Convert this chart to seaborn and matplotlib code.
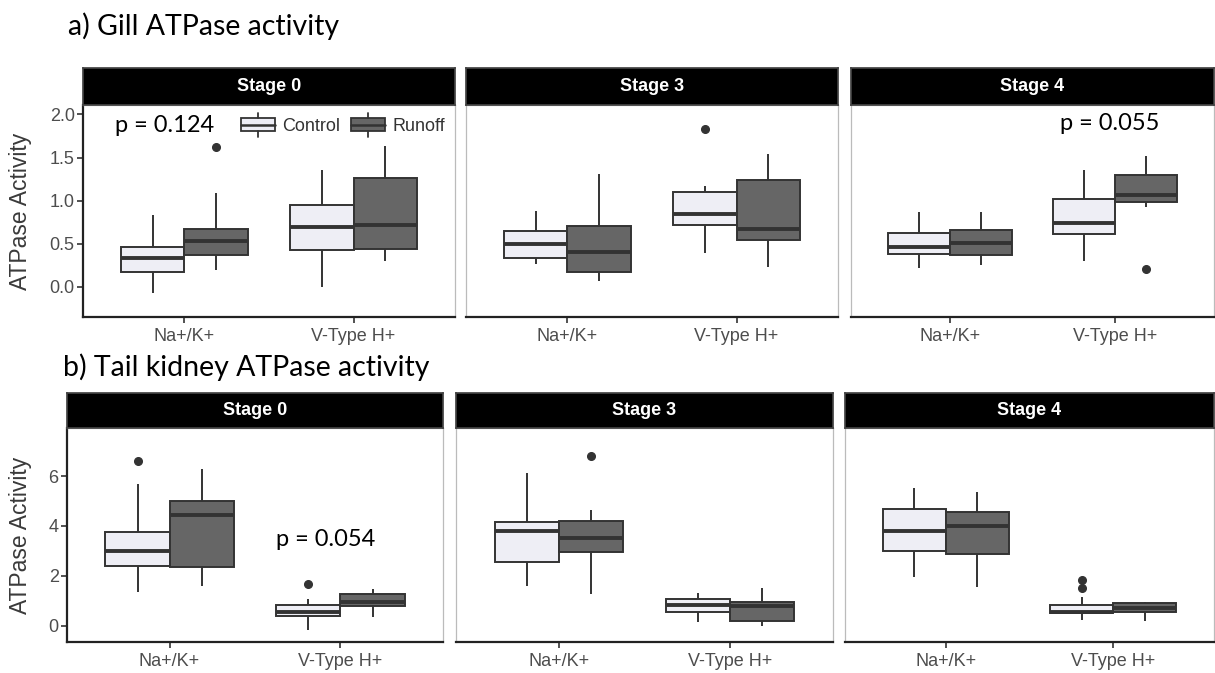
import pandas as pd
import seaborn as sns
import matplotlib.pyplot as plt
from matplotlib.patches import Rectangle, Patch
from matplotlib.lines import Line2D
from matplotlib.legend_handler import HandlerBase

# categories
stages = ['Stage 0', 'Stage 3', 'Stage 4']
pumps = ['Na+/K+', 'V-Type H+']
treatments = ['Control', 'Runoff']

# a) gill ATPase activity (values read off the boxes)
gill_s0_nak_control = [-0.07, 0.08, 0.17, 0.25, 0.34, 0.40, 0.46, 0.62, 0.83]
gill_s0_nak_runoff = [0.19, 0.28, 0.37, 0.45, 0.53, 0.60, 0.67, 1.09, 1.62]
gill_s0_vh_control = [0.00, 0.20, 0.43, 0.55, 0.69, 0.82, 0.95, 1.15, 1.36]
gill_s0_vh_runoff = [0.30, 0.37, 0.44, 0.58, 0.72, 1.00, 1.26, 1.45, 1.63]
gill_s3_nak_control = [0.26, 0.30, 0.34, 0.42, 0.50, 0.58, 0.65, 0.77, 0.88]
gill_s3_nak_runoff = [0.07, 0.12, 0.17, 0.28, 0.40, 0.55, 0.71, 1.00, 1.31]
gill_s3_vh_control = [0.39, 0.55, 0.72, 0.78, 0.85, 0.98, 1.10, 1.17, 1.83]
gill_s3_vh_runoff = [0.23, 0.38, 0.54, 0.60, 0.67, 0.95, 1.24, 1.40, 1.54]
gill_s4_nak_control = [0.22, 0.30, 0.38, 0.42, 0.46, 0.55, 0.63, 0.75, 0.87]
gill_s4_nak_runoff = [0.25, 0.31, 0.37, 0.44, 0.51, 0.59, 0.66, 0.77, 0.87]
gill_s4_vh_control = [0.30, 0.45, 0.61, 0.68, 0.74, 0.88, 1.02, 1.18, 1.35]
gill_s4_vh_runoff = [0.21, 0.93, 0.98, 1.02, 1.06, 1.18, 1.30, 1.41, 1.52]

# b) tail kidney ATPase activity
kid_s0_nak_control = [1.37, 1.90, 2.40, 2.70, 3.01, 3.40, 3.75, 5.68, 6.60]
kid_s0_nak_runoff = [1.60, 2.00, 2.37, 3.40, 4.44, 4.70, 5.00, 5.60, 6.27]
kid_s0_vh_control = [-0.16, 0.12, 0.40, 0.48, 0.57, 0.70, 0.84, 1.07, 1.67]
kid_s0_vh_runoff = [0.37, 0.60, 0.80, 0.88, 0.97, 1.12, 1.28, 1.38, 1.47]
kid_s3_nak_control = [1.61, 2.10, 2.57, 3.20, 3.80, 4.00, 4.17, 5.10, 6.13]
kid_s3_nak_runoff = [1.28, 2.10, 2.95, 3.20, 3.51, 3.85, 4.20, 4.64, 6.81]
kid_s3_vh_control = [0.17, 0.37, 0.57, 0.70, 0.84, 0.95, 1.07, 1.20, 1.31]
kid_s3_vh_runoff = [0.01, 0.10, 0.20, 0.50, 0.80, 0.88, 0.95, 1.25, 1.53]
kid_s4_nak_control = [1.95, 2.50, 3.01, 3.40, 3.80, 4.25, 4.68, 5.10, 5.53]
kid_s4_nak_runoff = [1.55, 2.20, 2.88, 3.45, 4.01, 4.30, 4.57, 5.00, 5.35]
kid_s4_vh_control = [0.24, 0.35, 0.45, 0.51, 0.53, 0.55, 0.57, 0.65, 0.75, 0.84, 1.15, 1.51, 1.84]
kid_s4_vh_runoff = [0.20, 0.38, 0.55, 0.63, 0.71, 0.82, 0.91, 0.93, 0.95]

gill_groups = [
    ('Stage 0', 'Na+/K+', 'Control', gill_s0_nak_control), ('Stage 0', 'Na+/K+', 'Runoff', gill_s0_nak_runoff),
    ('Stage 0', 'V-Type H+', 'Control', gill_s0_vh_control), ('Stage 0', 'V-Type H+', 'Runoff', gill_s0_vh_runoff),
    ('Stage 3', 'Na+/K+', 'Control', gill_s3_nak_control), ('Stage 3', 'Na+/K+', 'Runoff', gill_s3_nak_runoff),
    ('Stage 3', 'V-Type H+', 'Control', gill_s3_vh_control), ('Stage 3', 'V-Type H+', 'Runoff', gill_s3_vh_runoff),
    ('Stage 4', 'Na+/K+', 'Control', gill_s4_nak_control), ('Stage 4', 'Na+/K+', 'Runoff', gill_s4_nak_runoff),
    ('Stage 4', 'V-Type H+', 'Control', gill_s4_vh_control), ('Stage 4', 'V-Type H+', 'Runoff', gill_s4_vh_runoff),
]
kidney_groups = [
    ('Stage 0', 'Na+/K+', 'Control', kid_s0_nak_control), ('Stage 0', 'Na+/K+', 'Runoff', kid_s0_nak_runoff),
    ('Stage 0', 'V-Type H+', 'Control', kid_s0_vh_control), ('Stage 0', 'V-Type H+', 'Runoff', kid_s0_vh_runoff),
    ('Stage 3', 'Na+/K+', 'Control', kid_s3_nak_control), ('Stage 3', 'Na+/K+', 'Runoff', kid_s3_nak_runoff),
    ('Stage 3', 'V-Type H+', 'Control', kid_s3_vh_control), ('Stage 3', 'V-Type H+', 'Runoff', kid_s3_vh_runoff),
    ('Stage 4', 'Na+/K+', 'Control', kid_s4_nak_control), ('Stage 4', 'Na+/K+', 'Runoff', kid_s4_nak_runoff),
    ('Stage 4', 'V-Type H+', 'Control', kid_s4_vh_control), ('Stage 4', 'V-Type H+', 'Runoff', kid_s4_vh_runoff),
]


def to_frame(groups):
    rows = []
    for stage, pump, treat, vals in groups:
        for v in vals:
            rows.append({'stage': stage, 'pump': pump, 'treatment': treat, 'activity': v})
    return pd.DataFrame(rows)


gill = to_frame(gill_groups)
kidney = to_frame(kidney_groups)

sns.set_theme(style='white')
plt.rcParams['font.family'] = ['Liberation Sans', 'DejaVu Sans']

line_col = '#333333'
palette = {'Control': '#EDEDF6', 'Runoff': '#666666'}
tick_col = '#4D4D4D'
border_col = '#BBBBBB'

W, H = 1215, 673
fig = plt.figure(figsize=(W / 100, H / 100), dpi=100)


def px_axes(x0, y0, x1, y1):
    # pixel box (top-left origin) -> figure axes
    return fig.add_axes([x0 / W, 1 - y1 / H, (x1 - x0) / W, (y1 - y0) / H])


def draw_row(df, xs, strip_y, panel_y, ylim, yticks, yticklabels, ylab_x):
    axes = []
    for i, stage in enumerate(stages):
        x0, x1 = xs[i]
        ax = px_axes(x0, panel_y[0], x1, panel_y[1])
        sub = df[df['stage'] == stage]
        sns.boxplot(data=sub, x='pump', y='activity', hue='treatment', order=pumps,
                    hue_order=treatments, palette=palette, width=0.75, gap=0,
                    linecolor=line_col, linewidth=1.4, fliersize=5.5,
                    flierprops=dict(marker='o', markerfacecolor=line_col, markeredgecolor=line_col),
                    medianprops=dict(linewidth=2.8, color=line_col),
                    capprops=dict(linewidth=0), legend=False, ax=ax)
        ax.set_xlim(-0.6, 1.6)
        ax.set_ylim(*ylim)
        ax.set_xlabel('')
        ax.set_ylabel('')
        ax.tick_params(axis='x', length=4, width=1.2, color=line_col, labelsize=13,
                       labelcolor=tick_col, pad=4, bottom=True)
        for side in ['top', 'right', 'left']:
            ax.spines[side].set_color(border_col)
            ax.spines[side].set_linewidth(0.9)
        ax.spines['bottom'].set_color('#222222')
        ax.spines['bottom'].set_linewidth(1.6)
        if i == 0:
            ax.spines['left'].set_color('#222222')
            ax.spines['left'].set_linewidth(1.6)
            ax.set_yticks(yticks)
            ax.set_yticklabels(yticklabels)
            ax.tick_params(axis='y', length=4, width=1.2, color=line_col, labelsize=13,
                           labelcolor=tick_col, pad=2, left=True)
            ax.set_ylabel('ATPase Activity', fontsize=16.5, color='#3A3A3A')
            ax.yaxis.set_label_coords(ylab_x, 0.5)
        else:
            ax.set_yticks([])
        strip = px_axes(x0, strip_y[0], x1, strip_y[1])
        strip.set_facecolor('black')
        strip.set_xticks([])
        strip.set_yticks([])
        for s in strip.spines.values():
            s.set_color('#444444')
        strip.text(0.5, 0.5, stage, color='white', fontsize=13, fontweight='bold',
                   ha='center', va='center', transform=strip.transAxes)
        axes.append(ax)
    return axes


top_axes = draw_row(gill, [(83, 455), (466, 838), (851, 1214)], (68, 105), (105, 317),
                    (-0.35, 2.11), [0, 0.5, 1.0, 1.5, 2.0], ['0.0', '0.5', '1.0', '1.5', '2.0'], -0.137)
bot_axes = draw_row(kidney, [(67, 443), (456, 833), (845, 1214)], (393, 428), (428, 642),
                    (-0.64, 7.92), [0, 2, 4, 6], ['0', '2', '4', '6'], -0.093)

title_font = dict(family=['Lato', 'DejaVu Sans'], color='black')
fig.text(68 / W, 1 - 26 / H, 'a) Gill ATPase activity', fontsize=20.5, ha='left', va='center', **title_font)
fig.text(63 / W, 1 - 367 / H, 'b) Tail kidney ATPase activity', fontsize=20.5, ha='left', va='center', **title_font)

top_axes[0].text(-0.12, 1.87, 'p = 0.124', fontsize=17, ha='center', va='center', **title_font)
top_axes[2].text(0.97, 1.89, 'p = 0.055', fontsize=17, ha='center', va='center', **title_font)
bot_axes[0].text(0.915, 3.44, 'p = 0.054', fontsize=17, ha='center', va='center', **title_font)


class BoxKey(HandlerBase):
    def create_artists(self, legend, orig_handle, xd, yd, w, h, fontsize, trans):
        x0, y0 = -xd, -yd
        fc = orig_handle.get_facecolor()
        box = Rectangle((x0, y0 + 0.1 * h), w, 0.8 * h, facecolor=fc, edgecolor=line_col,
                        lw=1.3, transform=trans)
        med = Line2D([x0, x0 + w], [y0 + 0.5 * h] * 2, color=line_col, lw=1.8, transform=trans)
        up = Line2D([x0 + 0.5 * w] * 2, [y0 + 0.9 * h, y0 + 1.25 * h], color=line_col, lw=1.3, transform=trans)
        down = Line2D([x0 + 0.5 * w] * 2, [y0 - 0.25 * h, y0 + 0.1 * h], color=line_col, lw=1.3, transform=trans)
        return [box, med, up, down]


handles = [Patch(facecolor=palette[t]) for t in treatments]
fig.legend(handles, treatments, handler_map={Patch: BoxKey()}, ncol=2, frameon=False,
           loc='center', bbox_to_anchor=(343 / W, 1 - 126 / H), fontsize=13,
           labelcolor=line_col, handlelength=1.9, handleheight=1.0,
           columnspacing=0.6, handletextpad=0.4)

fig.savefig('out.png', dpi=100)
